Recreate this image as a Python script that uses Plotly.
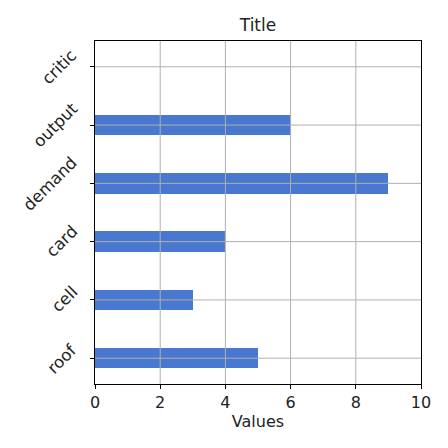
import plotly.graph_objects as go

categories = ["roof", "cell", "card", "demand", "output", "critic"]
values = [5, 3, 4, 9, 6, 0]
x_ticks = [0, 2, 4, 6, 8, 10]

font = "DejaVu Sans"
fig = go.Figure()
fig.add_trace(go.Bar(
    y=list(range(len(categories))), x=values, orientation="h",
    width=0.35, marker=dict(color="#4878d0", line=dict(width=0)),
))

shapes = []
for t in x_ticks[1:-1]:
    shapes.append(dict(type="line", xref="x", yref="paper", x0=t, x1=t, y0=0, y1=1,
                       line=dict(color="#b0b0b0", width=1), layer="above"))
for i in range(len(categories)):
    shapes.append(dict(type="line", xref="paper", yref="y", x0=0, x1=1, y0=i, y1=i,
                       line=dict(color="#b0b0b0", width=1), layer="above"))

annotations = []
for i, c in enumerate(categories):
    annotations.append(dict(
        text=c, xref="paper", yref="y", x=0, y=i, xshift=-11,
        xanchor="right", yanchor="middle", textangle=-45, showarrow=False,
        font=dict(family=font, size=16.5, color="#222"),
    ))

fig.update_layout(
    width=448, height=448,
    margin=dict(l=95, r=27, t=41, b=64),
    paper_bgcolor="white", plot_bgcolor="white",
    showlegend=False,
    shapes=shapes, annotations=annotations,
    title=dict(text="Title", xref="paper", x=0.5, xanchor="center", y=0.945, yanchor="middle",
               font=dict(family=font, size=17, color="#222")),
    font=dict(family=font, size=16, color="#222"),
    bargap=0,
)
fig.update_xaxes(
    range=[0, 10], tickvals=x_ticks, ticktext=[str(v) for v in x_ticks],
    showgrid=False, zeroline=False, automargin=False,
    showline=True, linecolor="black", linewidth=1, mirror=True,
    ticks="outside", ticklen=4, tickcolor="black",
    tickfont=dict(family=font, size=16, color="#222"),
    title=dict(text="Values", font=dict(family=font, size=16), standoff=4),
)
fig.update_yaxes(
    range=[-0.4425, 5.4425], tickvals=list(range(len(categories))),
    ticktext=["" for _ in categories],
    showgrid=False, zeroline=False, automargin=False,
    showline=True, linecolor="black", linewidth=1, mirror=True,
    ticks="outside", ticklen=4, tickcolor="black",
)

fig.write_html("out.html", config={"displayModeBar": False},
               post_script="document.body.style.margin='0';")
